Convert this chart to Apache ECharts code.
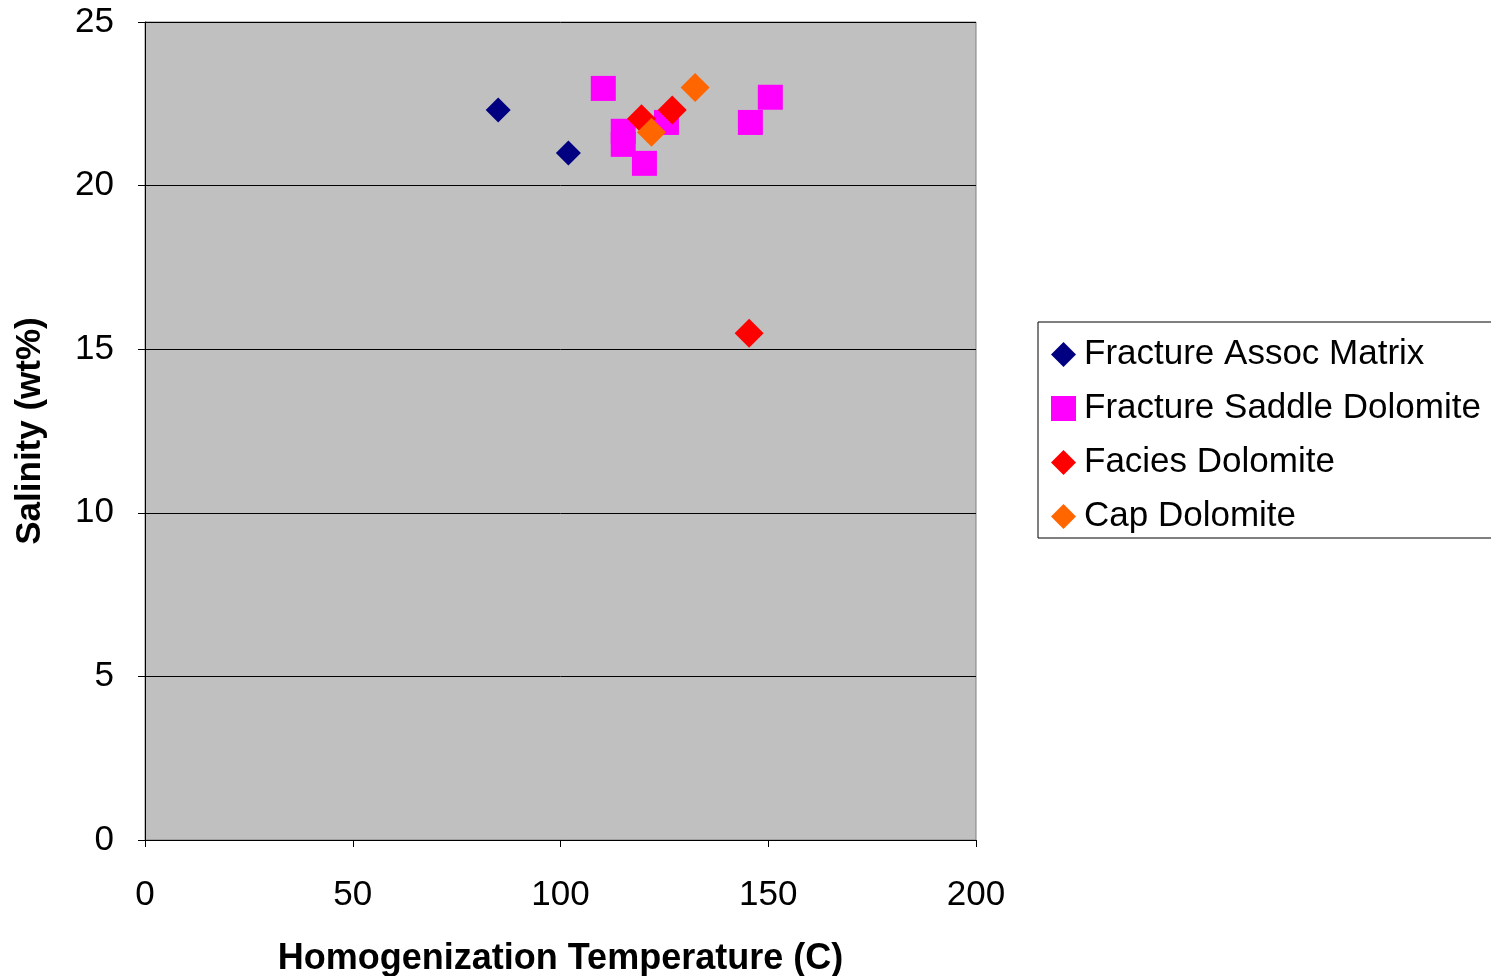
<!DOCTYPE html>
<html>
<head>
<meta charset="utf-8">
<script src="https://cdn.jsdelivr.net/npm/echarts@6/dist/echarts.min.js"></script>
<style>
  html, body { margin: 0; padding: 0; background: #fff; }
  #chart { width: 1491px; height: 976px; }
</style>
</head>
<body>
<div id="chart"></div>
<script>
// series data: [temperature, salinity]
const fracAssocMatrix = [[85.0, 22.31], [101.9, 21.0]];
const fracSaddleDolo = [[110.3, 22.97], [115.1, 21.66], [115.1, 21.26], [120.2, 20.68], [125.5, 21.93], [145.7, 21.93], [150.5, 22.7]];
const faciesDolo = [[119.5, 22.04], [126.9, 22.31], [145.4, 15.49]];
const capDolo = [[132.4, 23.0], [121.9, 21.63]];

const seriesNames = ['Fracture Assoc Matrix', 'Fracture Saddle Dolomite', 'Facies Dolomite', 'Cap Dolomite'];
const seriesColors = ['#000080', '#FF00FF', '#FF0000', '#FF6600'];
const seriesSymbols = ['diamond', 'rect', 'diamond', 'diamond'];
const seriesData = [fracAssocMatrix, fracSaddleDolo, faciesDolo, capDolo];

const xTicks = [0, 50, 100, 150, 200];
const yTicks = [0, 5, 10, 15, 20, 25];

const chart = echarts.init(document.getElementById('chart'), null, { renderer: 'canvas' });

const font = 'Liberation Sans, Arial, sans-serif';
const markerSizes = [25, 25, 29, 29];

const option = {
  animation: false,
  textStyle: { fontFamily: font },
  grid: {
    left: 145, top: 22, right: 515, bottom: 136,
    outerBoundsMode: 'none',
    containLabel: false,
    show: true, backgroundColor: '#C0C0C0', borderColor: '#808080', borderWidth: 1
  },
  legend: {
    orient: 'vertical',
    left: 1038, top: 322,
    padding: [15, 60, 4, 13],
    itemGap: 19,
    itemWidth: 25, itemHeight: 25,
    borderColor: '#000', borderWidth: 1,
    backgroundColor: '#fff',
    textStyle: { fontSize: 35, lineHeight: 35, color: '#000', fontFamily: font, padding: [0, 0, 0, 3] },
    data: seriesNames.map((n, i) => ({ name: n, icon: seriesSymbols[i] }))
  },
  xAxis: {
    type: 'value',
    min: xTicks[0], max: xTicks[xTicks.length - 1], interval: 50,
    name: 'Homogenization Temperature (C)',
    nameLocation: 'middle', nameGap: 101,
    nameTextStyle: { fontSize: 36, fontWeight: 'bold', color: '#000', fontFamily: font },
    axisLine: { onZero: false, lineStyle: { color: '#000', width: 1 } },
    axisTick: { show: true, length: 7, lineStyle: { color: '#000' } },
    axisLabel: { fontSize: 35, color: '#000', margin: 38, fontFamily: font },
    splitLine: { show: false }
  },
  yAxis: {
    type: 'value',
    min: yTicks[0], max: yTicks[yTicks.length - 1], interval: 5,
    name: 'Salinity (wt%)',
    nameLocation: 'middle', nameGap: 97,
    nameTextStyle: { fontSize: 35, fontWeight: 'bold', color: '#000', fontFamily: font },
    axisLine: { show: true, onZero: false, lineStyle: { color: '#000', width: 1 } },
    axisTick: { show: true, length: 7, lineStyle: { color: '#000' } },
    axisLabel: { fontSize: 35, color: '#000', margin: 31, fontFamily: font },
    splitLine: { show: true, lineStyle: { color: '#000', width: 1 } }
  },
  series: seriesNames.map((n, i) => ({
    name: n,
    type: 'scatter',
    symbol: seriesSymbols[i],
    symbolSize: markerSizes[i],
    itemStyle: { color: seriesColors[i], opacity: 1 },
    data: seriesData[i],
    z: 2 + i
  }))
};

chart.setOption(option);
</script>
</body>
</html>
